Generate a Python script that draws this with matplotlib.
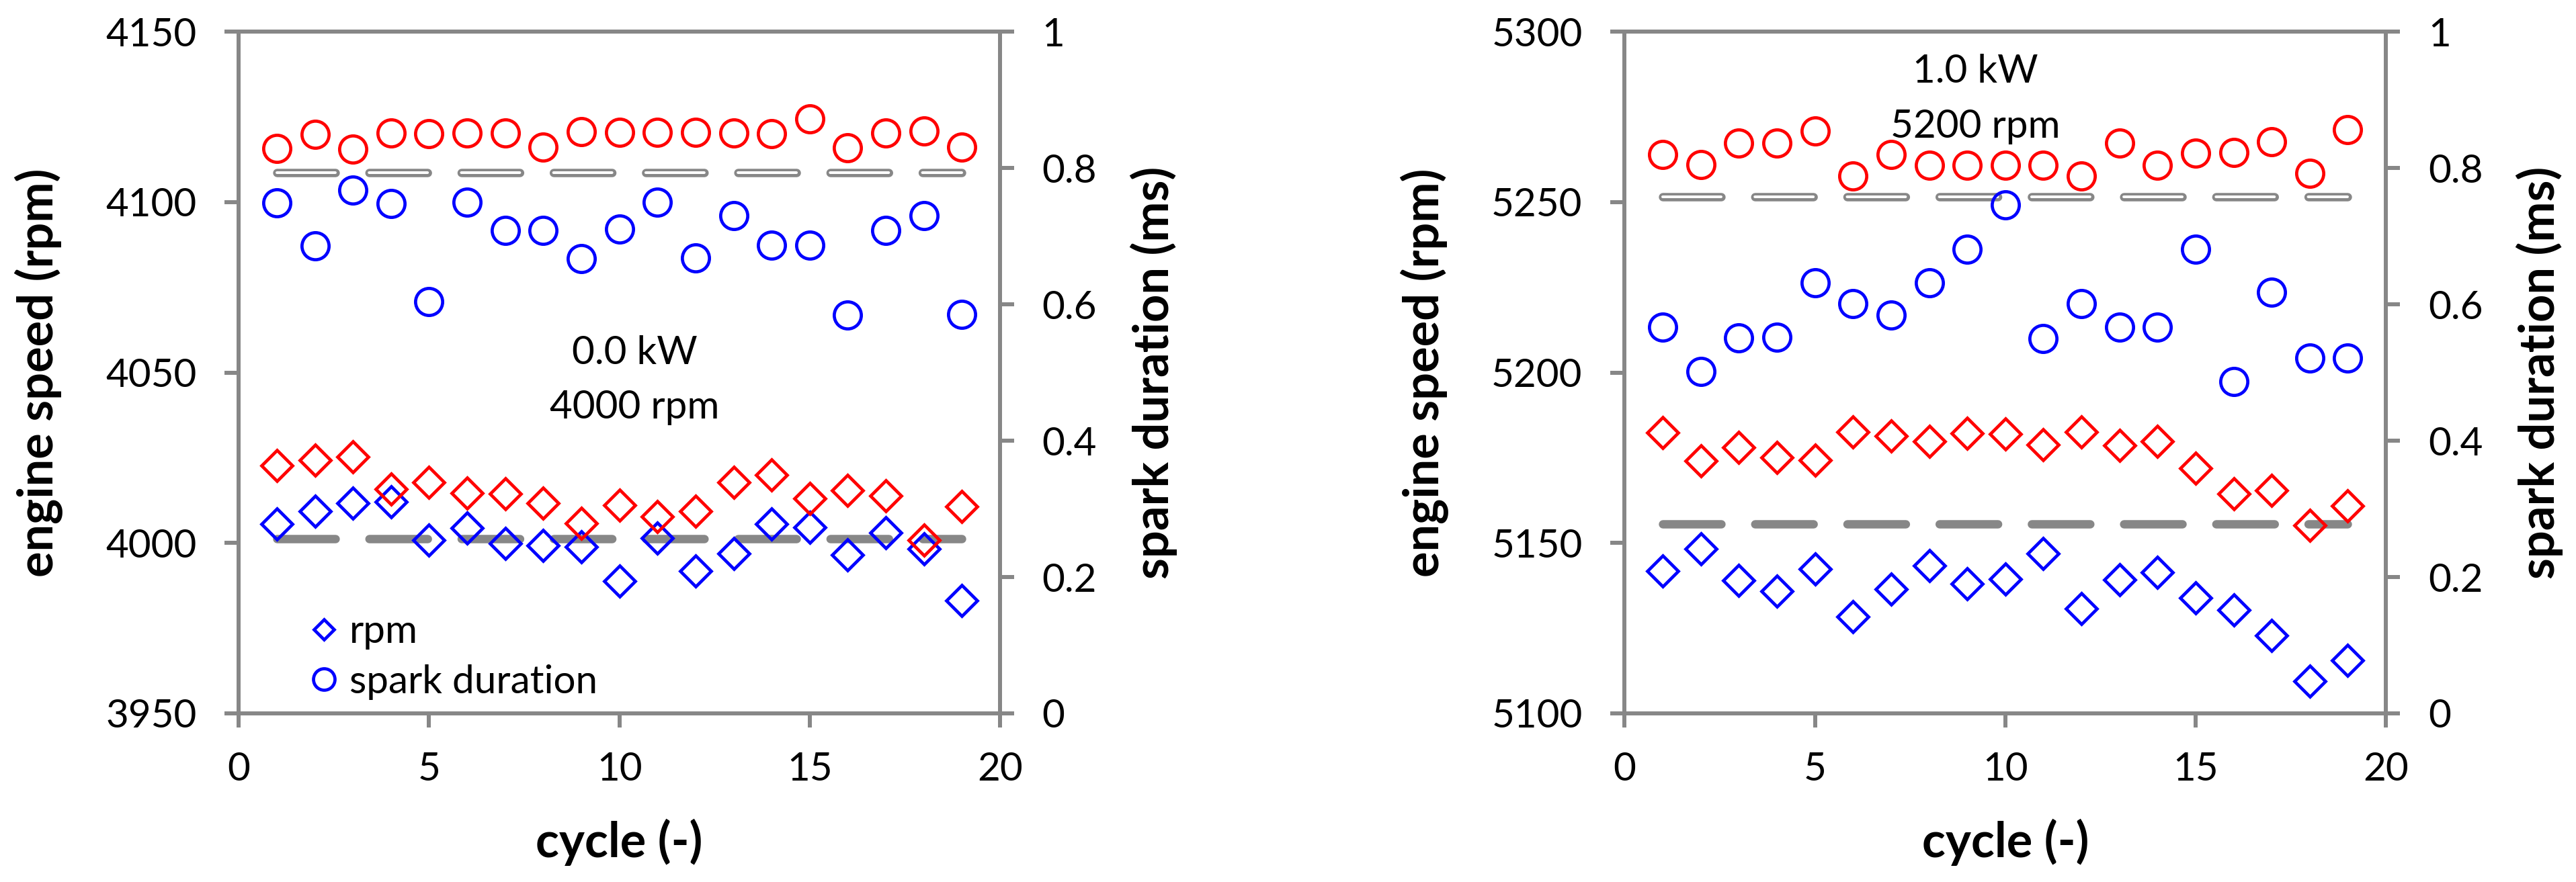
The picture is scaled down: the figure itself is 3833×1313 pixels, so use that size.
import matplotlib.pyplot as plt
from matplotlib.lines import Line2D

plt.rcParams['font.family'] = ['Lato', 'DejaVu Sans']
plt.rcParams['lines.scale_dashes'] = False

cycle = list(range(1, 20))
ref_cycle = [1, 19]

# 0.0 kW, 4000 rpm
rpm_blue_0 = [4005.5, 4009.3, 4011.6, 4012.0, 4000.9, 4004.4, 3999.9, 3999.3, 3998.8, 3988.8,
              4001.4, 3991.8, 3997.0, 4005.5, 4004.5, 3996.5, 4003.0, 3998.2, 3983.2]
rpm_red_0 = [4022.7, 4024.3, 4025.2, 4015.9, 4017.7, 4014.7, 4014.5, 4011.6, 4005.8, 4011.0,
             4007.8, 4009.4, 4017.7, 4019.9, 4013.0, 4015.5, 4013.8, 4000.8, 4010.7]
spark_blue_0 = [0.749, 0.686, 0.768, 0.748, 0.604, 0.750, 0.709, 0.709, 0.667, 0.711,
                0.750, 0.668, 0.730, 0.687, 0.687, 0.584, 0.709, 0.730, 0.585]
spark_red_0 = [0.829, 0.849, 0.828, 0.851, 0.850, 0.851, 0.851, 0.831, 0.853, 0.852,
               0.852, 0.852, 0.851, 0.850, 0.872, 0.830, 0.851, 0.854, 0.831]
rpm_ref_0 = 4001.2
spark_ref_0 = 0.793

# 1.0 kW, 5200 rpm
rpm_blue_1 = [5141.8, 5148.2, 5139.1, 5135.9, 5142.4, 5128.4, 5136.5, 5143.3, 5138.0, 5139.5,
              5146.9, 5130.8, 5139.3, 5141.3, 5133.9, 5130.3, 5122.9, 5109.5, 5115.5]
rpm_red_1 = [5182.4, 5174.1, 5178.1, 5175.0, 5174.3, 5182.6, 5181.4, 5179.9, 5182.2, 5181.9,
             5178.8, 5182.6, 5178.6, 5179.8, 5172.0, 5164.5, 5165.5, 5155.1, 5160.9]
spark_blue_1 = [0.567, 0.502, 0.551, 0.552, 0.632, 0.601, 0.584, 0.632, 0.681, 0.746,
                0.550, 0.601, 0.567, 0.567, 0.681, 0.487, 0.618, 0.521, 0.521]
spark_red_1 = [0.820, 0.805, 0.837, 0.837, 0.854, 0.788, 0.820, 0.804, 0.804, 0.804,
               0.804, 0.788, 0.837, 0.804, 0.822, 0.823, 0.839, 0.792, 0.856]
rpm_ref_1 = 5155.5
spark_ref_1 = 0.758

rpm_ticks_0 = [3950, 4000, 4050, 4100, 4150]
rpm_ticks_1 = [5100, 5150, 5200, 5250, 5300]
spark_ticks = [0, 0.2, 0.4, 0.6, 0.8, 1]
cycle_ticks = [0, 5, 10, 15, 20]

GRAY = '#878787'
BLUE = '#0000FF'
RED = '#FF0000'
TICK_FS = 21
LABEL_FS = 26
LW = 2.16

fig = plt.figure(figsize=(19.165, 6.565), dpi=200)


def ref_line(ax, y):
    ax.plot(ref_cycle, [y, y], color=GRAY, lw=4.5, ls=(0, (31.3, 18.1)),
            dash_capstyle='round', zorder=1)


def panel(left, rpm_blue, rpm_red, spark_blue, spark_red, rpm_ref, spark_ref,
          rpm_ticks, case_lines, text_x, text_y):
    ax = fig.add_axes([left, 0.1912, 0.2955, 0.7728])
    ax2 = ax.twinx()

    ref_line(ax, rpm_ref)
    ref_line(ax2, spark_ref)
    ax2.plot(ref_cycle, [spark_ref, spark_ref], color='white', lw=1.44,
             ls=(0, (31.3, 18.1)), dash_capstyle='round', zorder=1.5)

    ax.plot(cycle, rpm_blue, ls='none', marker='D', ms=11.8, mew=1.7, mfc='none', mec=BLUE, zorder=3)
    ax.plot(cycle, rpm_red, ls='none', marker='D', ms=11.8, mew=1.7, mfc='none', mec=RED, zorder=3)
    ax2.plot(cycle, spark_blue, ls='none', marker='o', ms=14.5, mew=1.7, mfc='none', mec=BLUE, zorder=3)
    ax2.plot(cycle, spark_red, ls='none', marker='o', ms=14.5, mew=1.7, mfc='none', mec=RED, zorder=3)

    ax.set_xlim(0, 20)
    ax.set_ylim(rpm_ticks[0], rpm_ticks[-1])
    ax2.set_ylim(0, 1)
    ax.set_xticks(cycle_ticks)
    ax.set_yticks(rpm_ticks)
    ax2.set_yticks(spark_ticks)
    ax2.set_yticklabels([f'{v:g}' for v in spark_ticks])

    for a in (ax, ax2):
        for s in a.spines.values():
            s.set_color(GRAY)
            s.set_linewidth(LW)
        a.tick_params(direction='out', length=7.6, width=LW, color=GRAY,
                      labelsize=TICK_FS, pad=15)
    ax.tick_params(axis='x', pad=13)

    ax.set_xlabel('cycle (-)', fontsize=LABEL_FS, fontweight='bold')
    ax.set_ylabel('engine speed (rpm)', fontsize=LABEL_FS, fontweight='bold')
    ax2.set_ylabel('spark duration (ms)', fontsize=LABEL_FS, fontweight='bold')
    ax.xaxis.set_label_coords(0.5, -0.155)
    ax.yaxis.set_label_coords(-0.231, 0.5)
    ax2.yaxis.set_label_coords(1.171, 0.5)

    for line, ty in zip(case_lines, text_y):
        ax2.text(text_x, ty, line, transform=ax2.transAxes, ha='center',
                 va='baseline', fontsize=TICK_FS)
    return ax, ax2


ax_a, ax_a2 = panel(0.0927, rpm_blue_0, rpm_red_0, spark_blue_0, spark_red_0,
                    rpm_ref_0, spark_ref_0, rpm_ticks_0,
                    ['0.0 kW', '4000 rpm'], 0.520, [0.5128, 0.4329])
ax_b, ax_b2 = panel(0.6307, rpm_blue_1, rpm_red_1, spark_blue_1, spark_red_1,
                    rpm_ref_1, spark_ref_1, rpm_ticks_1,
                    ['1.0 kW', '5200 rpm'], 0.4607, [0.9251, 0.8446])

handles = [
    Line2D([], [], ls='none', marker='D', ms=7.6, mew=1.7, mfc='none', mec=BLUE),
    Line2D([], [], ls='none', marker='o', ms=11.5, mew=1.7, mfc='none', mec=BLUE),
]
ax_a2.legend(handles, ['rpm', 'spark duration'], loc='upper left',
             bbox_to_anchor=(0.0862, 0.1458), frameon=False, fontsize=TICK_FS,
             borderpad=0, borderaxespad=0, handlelength=1.0, handletextpad=0.15,
             labelspacing=0.37)

fig.savefig('out.png', dpi=200)
